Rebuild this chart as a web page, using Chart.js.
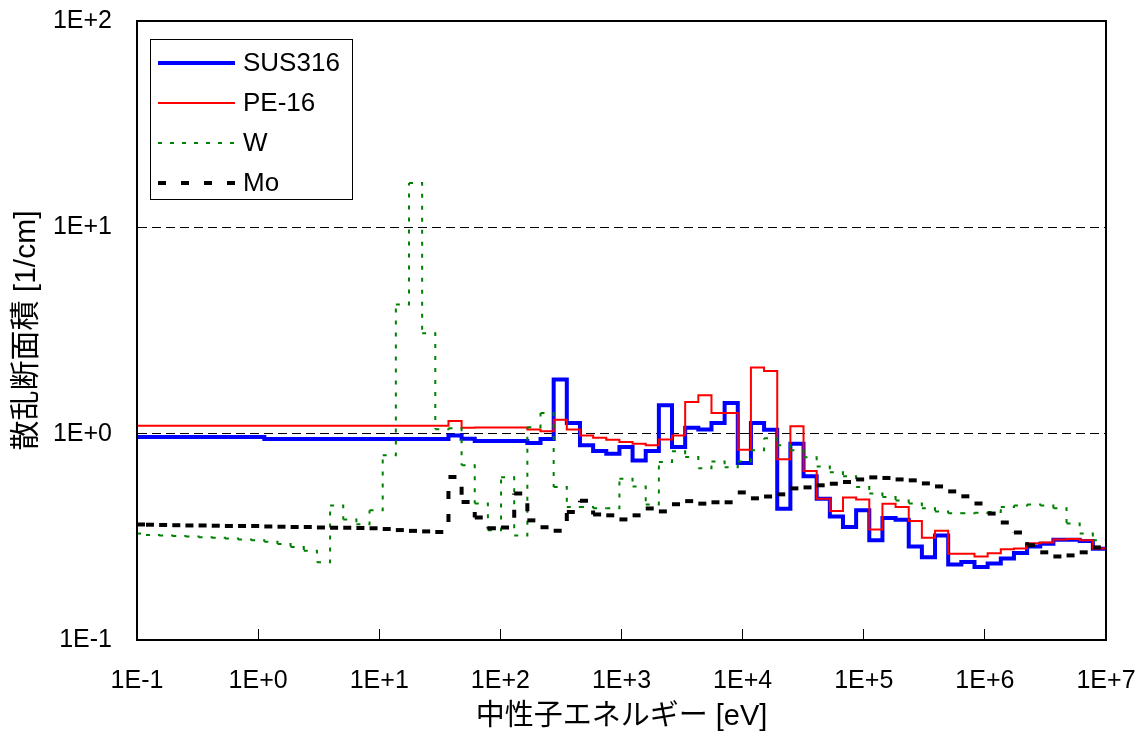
<!DOCTYPE html>
<html>
<head>
<meta charset="utf-8">
<script src="https://cdn.jsdelivr.net/npm/chart.js@4.4.1/dist/chart.umd.min.js"></script>
<style>
  body { margin: 0; background: #fff; }
  #wrap { width: 1147px; height: 737px; }
</style>
</head>
<body>
<div id="wrap"><canvas id="sigma" width="1147" height="737"></canvas></div>
<script>
// group boundaries [eV], ascending (74 groups, lethargy width 0.25)
var energyBounds = [
  0.1, 0.1186, 0.1523, 0.1956, 0.2511, 0.3224, 0.4140, 0.5316, 0.6826, 0.8764,
  1.125, 1.445, 1.855, 2.382, 3.059, 3.928, 5.044, 6.476, 8.315, 10.68,
  13.71, 17.60, 22.60, 29.02, 37.27, 47.85, 61.44, 78.89, 101.3, 130.1,
  167.0, 214.5, 275.4, 353.6, 454.0, 583.0, 748.5, 961.1, 1234, 1585,
  2035, 2613, 3355, 4307, 5531, 7102, 9119, 11709, 15034, 19305,
  24788, 31828, 40868, 52475, 67379, 86517, 111090, 142640, 183160, 235180,
  301970, 387740, 497870, 639280, 820850, 1054000, 1353400, 1737700, 2231300, 2865000,
  3678800, 4723700, 6065300, 7788000, 10000000
];

// macroscopic scattering cross section [1/cm] per group, low energy first
var sus316 = [
  0.963, 0.963, 0.963, 0.963, 0.963, 0.963, 0.963, 0.963, 0.963, 0.963,
  0.941, 0.941, 0.941, 0.941, 0.941, 0.941, 0.941, 0.941, 0.941, 0.941,
  0.941, 0.941, 0.941, 0.941,
  0.981, 0.946, 0.921, 0.921, 0.921, 0.921, 0.900, 0.941, 1.83, 1.126,
  0.878, 0.823, 0.800, 0.861, 0.742, 0.823, 1.372, 0.861, 1.069, 1.049,
  1.126, 1.407, 0.720, 1.126, 1.046, 0.433, 0.894, 0.621, 0.484, 0.397,
  0.353, 0.425, 0.304, 0.390, 0.383, 0.284, 0.252, 0.321, 0.232, 0.239,
  0.226, 0.235, 0.248, 0.264, 0.284, 0.293, 0.306, 0.306, 0.302, 0.277
];
var pe16 = [
  1.093, 1.093, 1.093, 1.093, 1.093, 1.093, 1.093, 1.093, 1.093, 1.093,
  1.093, 1.093, 1.093, 1.093, 1.093, 1.093, 1.093, 1.093, 1.093, 1.093,
  1.093, 1.093, 1.093, 1.093,
  1.151, 1.069, 1.07, 1.07, 1.07, 1.07, 1.049, 1.026, 1.169, 1.049,
  0.981, 0.956, 0.935, 0.911, 0.894, 0.878, 0.938, 0.981, 1.423, 1.534,
  1.259, 1.259, 0.836, 2.09, 2.01, 0.751, 1.085, 0.659, 0.484, 0.422,
  0.490, 0.479, 0.343, 0.458, 0.441, 0.377, 0.313, 0.338, 0.262, 0.262,
  0.254, 0.263, 0.275, 0.278, 0.294, 0.297, 0.307, 0.309, 0.304, 0.278
];
var tungsten = [
  0.328, 0.323, 0.321, 0.319, 0.317, 0.315, 0.313, 0.310, 0.307, 0.304,
  0.299, 0.292, 0.282, 0.271, 0.238, 0.449, 0.384, 0.364, 0.425, 0.785,
  4.23, 16.4, 3.07, 1.05, 1.061, 0.702, 0.459, 0.340, 0.614, 0.321,
  1.073, 1.259, 0.552, 0.441, 0.441, 0.435, 0.435, 0.605, 0.555, 0.454,
  0.728, 0.821, 0.770, 0.679, 0.734, 0.687, 0.734, 0.830, 0.949, 0.878,
  0.830, 0.768, 0.694, 0.651, 0.621, 0.551, 0.513, 0.493, 0.475, 0.459,
  0.435, 0.420, 0.412, 0.411, 0.414, 0.417, 0.441, 0.449, 0.454, 0.449,
  0.435, 0.367, 0.328, 0.304
];
var molybdenum = [
  0.363, 0.362, 0.361, 0.360, 0.359, 0.359, 0.358, 0.357, 0.357, 0.357,
  0.355, 0.354, 0.353, 0.353, 0.351, 0.350, 0.350, 0.349, 0.348, 0.345,
  0.341, 0.338, 0.336, 0.334, 0.617, 0.466, 0.392, 0.348, 0.351, 0.513,
  0.380, 0.352, 0.338, 0.417, 0.473, 0.406, 0.402, 0.384, 0.402, 0.434,
  0.420, 0.455, 0.471, 0.458, 0.465, 0.465, 0.519, 0.486, 0.496, 0.508,
  0.543, 0.549, 0.562, 0.572, 0.583, 0.600, 0.614, 0.610, 0.600, 0.594,
  0.574, 0.555, 0.525, 0.497, 0.459, 0.410, 0.371, 0.332, 0.288, 0.266,
  0.254, 0.257, 0.266, 0.281
];

var xTicks = [0.1, 1, 10, 100, 1e3, 1e4, 1e5, 1e6, 1e7];
var xTickLabels = ['1E-1', '1E+0', '1E+1', '1E+2', '1E+3', '1E+4', '1E+5', '1E+6', '1E+7'];
var yTicks = [0.1, 1, 10, 100];
var yTickLabels = ['1E-1', '1E+0', '1E+1', '1E+2'];

var latin = "'Liberation Sans', 'Noto Sans CJK JP', sans-serif";

// one point per group at its lower edge, plus the top edge so the last step is closed
function toSteps(values) {
  var pts = values.map(function (v, i) { return { x: energyBounds[i], y: v }; });
  pts.push({ x: energyBounds[energyBounds.length - 1], y: values[values.length - 1] });
  return pts;
}

// alternate a tiny offset so every step is stroked on its own and its dash restarts
function dashPerStep(ctx) {
  return ctx.p0DataIndex % 2 ? 0.001 : 0;
}

var frame = {
  id: 'frame',
  afterDatasetsDraw: function (chart) {
    var a = chart.chartArea, ctx = chart.ctx;
    ctx.save();
    ctx.strokeStyle = '#000';
    ctx.lineWidth = 2;
    ctx.strokeRect(a.left, a.top, a.right - a.left, a.bottom - a.top);
    ctx.restore();
  }
};

var boxLegend = {
  id: 'boxLegend',
  afterDraw: function (chart) {
    var ctx = chart.ctx;
    ctx.save();
    ctx.fillStyle = '#fff';
    ctx.fillRect(150.5, 39.5, 202, 160);
    ctx.strokeStyle = '#000';
    ctx.lineWidth = 1;
    ctx.strokeRect(150.5, 39.5, 202, 160);
    chart.data.datasets.forEach(function (ds, i) {
      var y = 63 + i * 40;
      ctx.beginPath();
      ctx.setLineDash(ds.borderDash || []);
      ctx.lineWidth = ds.borderWidth;
      ctx.strokeStyle = ds.borderColor;
      ctx.moveTo(158, y);
      ctx.lineTo(235, y);
      ctx.stroke();
      ctx.setLineDash([]);
      ctx.fillStyle = '#000';
      ctx.font = '26px ' + latin;
      ctx.textBaseline = 'middle';
      ctx.fillText(ds.label, 243, y + 1);
    });
    ctx.restore();
  }
};

new Chart(document.getElementById('sigma'), {
  type: 'line',
  data: {
    datasets: [{
      label: 'SUS316',
      data: toSteps(sus316),
      borderColor: '#0000ff',
      borderWidth: 4,
      order: 3
    }, {
      label: 'PE-16',
      data: toSteps(pe16),
      borderColor: '#ff0000',
      borderWidth: 2,
      order: 2
    }, {
      label: 'W',
      data: toSteps(tungsten),
      borderColor: '#008000',
      borderWidth: 2,
      borderDash: [4, 8],
      segment: { borderDashOffset: dashPerStep },
      order: 1
    }, {
      label: 'Mo',
      data: toSteps(molybdenum),
      borderColor: '#000000',
      borderWidth: 4,
      borderDash: [8, 15],
      segment: { borderDashOffset: dashPerStep },
      order: 0
    }]
  },
  options: {
    responsive: false,
    animation: false,
    devicePixelRatio: 1,
    layout: { padding: { top: 21, right: 41, left: 0, bottom: 0 } },
    elements: {
      point: { radius: 0 },
      line: { stepped: true, tension: 0, fill: false }
    },
    plugins: {
      legend: { display: false },
      tooltip: { enabled: false }
    },
    scales: {
      x: {
        type: 'logarithmic',
        min: 0.1,
        max: 1e7,
        afterBuildTicks: function (s) {
          s.ticks = xTicks.map(function (v) { return { value: v }; });
        },
        afterFit: function (s) {
          s.height = 97;
          s.paddingLeft = 0;
          s.paddingRight = 0;
        },
        ticks: {
          autoSkip: false,
          maxRotation: 0,
          padding: 37,
          color: '#000',
          font: { family: latin, size: 25 },
          callback: function (v, i) { return xTickLabels[i]; }
        },
        grid: {
          drawOnChartArea: false,
          drawTicks: true,
          tickLength: -11,
          tickColor: '#000',
          tickWidth: 1
        },
        border: { color: '#000', width: 2 },
        title: {
          display: true,
          text: '中性子エネルギー [eV]',
          color: '#000',
          font: { family: latin, size: 29 },
          padding: { top: 0, bottom: 3 }
        }
      },
      y: {
        type: 'logarithmic',
        min: 0.1,
        max: 100,
        afterBuildTicks: function (s) {
          s.ticks = yTicks.map(function (v) { return { value: v }; });
        },
        afterFit: function (s) {
          s.width = 137;
          s.paddingTop = 0;
          s.paddingBottom = 0;
        },
        ticks: {
          autoSkip: false,
          padding: 25,
          color: '#000',
          font: { family: latin, size: 25 },
          callback: function (v, i) { return yTickLabels[i]; }
        },
        grid: {
          drawTicks: false,
          lineWidth: 1,
          color: function (c) {
            var v = c.tick && c.tick.value;
            return (v === 1 || v === 10) ? '#000' : 'rgba(0,0,0,0)';
          }
        },
        border: { color: '#000', width: 2, dash: [9, 5] },
        title: {
          display: true,
          text: '散乱断面積 [1/cm]',
          color: '#000',
          font: { family: latin, size: 30 },
          padding: { top: 9, bottom: 0 }
        }
      }
    }
  },
  plugins: [frame, boxLegend]
});
</script>
</body>
</html>
